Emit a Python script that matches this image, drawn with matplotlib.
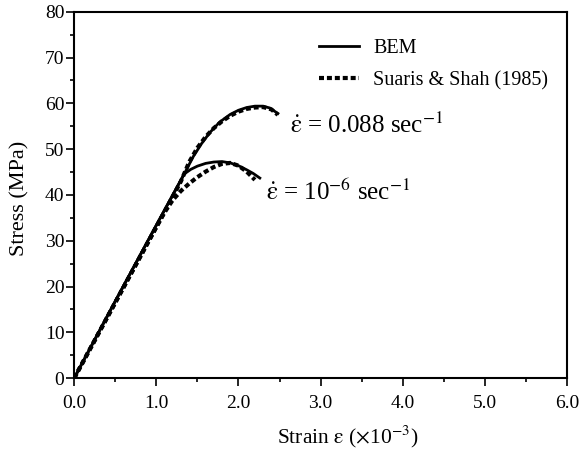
import numpy as np
import matplotlib
matplotlib.use('Agg')
import matplotlib.pyplot as plt
from matplotlib.ticker import MultipleLocator, FormatStrFormatter

plt.rcParams['font.family'] = ['Liberation Serif', 'DejaVu Serif']
plt.rcParams['mathtext.fontset'] = 'stix'

# BEM, rate 0.088 1/s
bem_fast_strain = [0.0, 0.5, 1.0, 1.34, 1.45, 1.55, 1.65, 1.77, 1.9, 2.0, 2.1, 2.2, 2.3, 2.38, 2.48]
bem_fast_stress = [0.0, 16.8, 33.4, 44.6, 48.4, 51.2, 53.6, 55.9, 57.6, 58.5, 59.1, 59.4, 59.4, 59.0, 57.8]
# BEM, rate 1e-6 1/s
bem_slow_strain = [0.0, 0.5, 1.0, 1.34, 1.42, 1.5, 1.6, 1.7, 1.8, 1.9, 2.0, 2.1, 2.18, 2.26]
bem_slow_stress = [0.0, 16.8, 33.4, 44.6, 45.6, 46.3, 46.9, 47.2, 47.3, 47.0, 46.4, 45.5, 44.7, 43.7]
# Suaris & Shah (1985)
exp_fast_strain = [0.0, 0.5, 1.0, 1.3, 1.4, 1.5, 1.6, 1.7, 1.8, 1.9, 2.0, 2.1, 2.2, 2.3, 2.4, 2.48]
exp_fast_stress = [0.0, 16.5, 33.0, 43.0, 47.2, 50.3, 52.7, 54.6, 56.1, 57.3, 58.2, 58.8, 59.1, 59.2, 58.7, 57.5]
exp_slow_strain = [0.0, 0.5, 1.0, 1.1, 1.2, 1.3, 1.4, 1.5, 1.6, 1.7, 1.8, 1.9, 2.0, 2.1, 2.2]
exp_slow_stress = [0.0, 16.5, 33.0, 36.2, 38.9, 40.9, 42.5, 43.9, 45.1, 46.1, 46.8, 47.0, 46.4, 45.1, 43.3]

fig = plt.figure(figsize=(5.84, 4.54), dpi=100)
ax = fig.add_axes([0.127, 0.167, 0.844, 0.807])

dot = (0, (1.2, 0.7))
ax.plot(bem_fast_strain, bem_fast_stress, color='black', lw=2, label='BEM')
ax.plot(exp_fast_strain, exp_fast_stress, color='black', lw=3, ls=dot,
        label='Suaris & Shah (1985)')
ax.plot(bem_slow_strain, bem_slow_stress, color='black', lw=2)
ax.plot(exp_slow_strain, exp_slow_stress, color='black', lw=3, ls=dot)

ax.set_xlim(0, 6)
ax.set_ylim(0, 80)
ax.xaxis.set_major_locator(MultipleLocator(1))
ax.xaxis.set_minor_locator(MultipleLocator(0.5))
ax.xaxis.set_major_formatter(FormatStrFormatter('%.1f'))
ax.yaxis.set_major_locator(MultipleLocator(10))
ax.yaxis.set_minor_locator(MultipleLocator(5))
ax.tick_params(which='both', direction='out', labelsize=14, width=1.2)
ax.tick_params(which='major', length=6)
ax.tick_params(axis='y', which='major', pad=1)
ax.tick_params(axis='x', which='major', pad=6)
ax.tick_params(which='minor', length=3)
for s in ax.spines.values():
    s.set_linewidth(1.5)

ax.set_xlabel(r'Strain $\mathrm{\varepsilon}$ ($\times$10$^{\mathrm{-3}}$)', fontsize=15.5)
ax.xaxis.set_label_coords(0.555, -0.125)
ax.set_ylabel('Stress (MPa)', fontsize=16)
ax.yaxis.set_label_coords(-0.09, 0.49)

ax.text(2.63, 55.3, r'$\dot{\mathrm{\varepsilon}}$ = 0.088 sec$^{\mathrm{-1}}$', fontsize=18,
        va='center', ha='left')
ax.text(2.34, 40.5, r'$\dot{\mathrm{\varepsilon}}$ = 10$^{-6}$ sec$^{\mathrm{-1}}$', fontsize=18,
        va='center', ha='left')

ax.legend(loc='upper left', bbox_to_anchor=(0.46, 0.975), frameon=False, fontsize=14.5,
          handlelength=2.0, handletextpad=0.7, labelspacing=0.65)

fig.savefig('out.png', dpi=100)
